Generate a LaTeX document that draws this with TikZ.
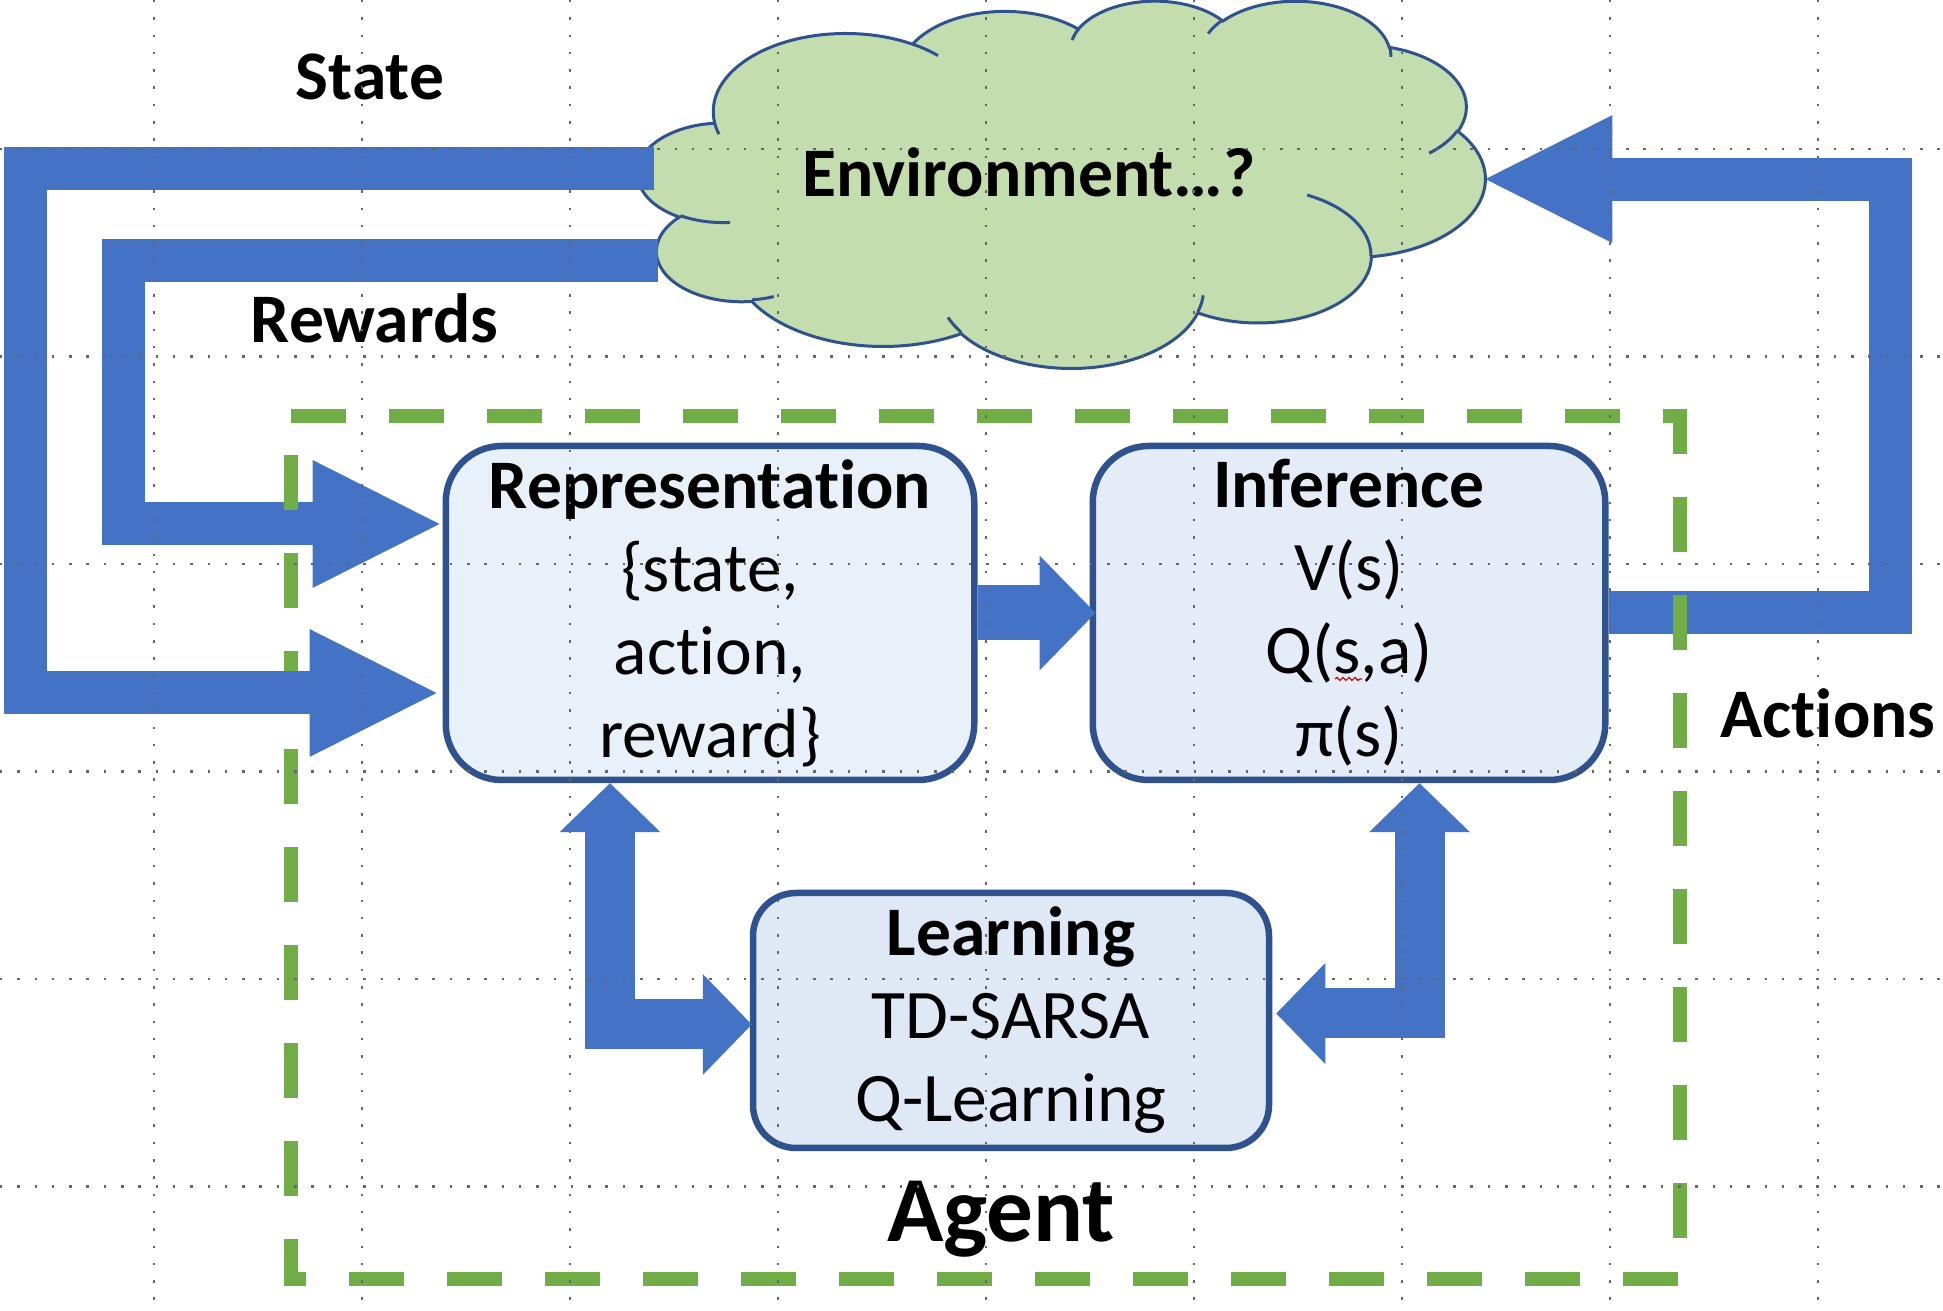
\documentclass[tikz,border=0pt]{standalone}
\usepackage{fontspec}
\setmainfont{Carlito}[Ligatures={NoCommon,NoContextual}]
\usetikzlibrary{arrows.meta,calc,decorations.pathmorphing}
\definecolor{arrowblue}{HTML}{4472C4}
\definecolor{edgeblue}{HTML}{2F528F}
\definecolor{repfill}{HTML}{E8F0F9}
\definecolor{inffill}{HTML}{E3ECF7}
\definecolor{lrnfill}{HTML}{DFE9F5}
\definecolor{cloudfill}{HTML}{C3DDAE}
\definecolor{agentgreen}{HTML}{70AD47}
% one puff of the cloud: x radius, y radius, start, sweep
\newcommand\cloudarc[4]{%
  \pgfextra{%
    \pgfmathparse{-atan2((#1)*sin(#3),(#2)*cos(#3))}\xdef\cldfrom{\pgfmathresult}%
    \pgfmathparse{-atan2((#1)*sin((#3)+(#4)),(#2)*cos((#3)+(#4)))}\xdef\cldto{\pgfmathresult}%
    \pgfmathparse{(\cldto)+360*round(((\cldfrom)-(#4)-(\cldto))/360)}\xdef\cldto{\pgfmathresult}%
    \pgfmathparse{(#1)*0.019606}\xdef\cldrx{\pgfmathresult}%
    \pgfmathparse{(#2)*0.0084954}\xdef\cldry{\pgfmathresult}%
  }%
  arc[start angle=\cldfrom, end angle=\cldto, x radius=\cldrx cm, y radius=\cldry cm]%
}
\begin{document}
\begin{tikzpicture}[
    box/.style={draw=edgeblue, line width=0.065cm, rounded corners=0.56cm, align=center,
      inner sep=0pt, font=\fontsize{19.8}{23.6}\selectfont},
    cloudline/.style={draw=edgeblue, line width=0.03cm},
    bigarrow/.style={arrowblue, line width=0.43cm, -{Triangle[length=1.27cm,width=1.28cm,line width=0pt]}},
    twoway/.style={arrowblue, line width=0.5cm,
      arrows={Triangle[length=0.49cm,width=1.01cm,line width=0pt]-Triangle[length=0.49cm,width=1.01cm,line width=0pt]}},
    lbl/.style={font=\bfseries\fontsize{19.8}{24}\selectfont, anchor=base},
    gridline/.style={black!60, line width=0.025cm, dash pattern=on 0.025cm off 0.148cm}
  ]
    \path[use as bounding box, fill=white] (0,0) rectangle (19.43,13.11);
    % Environment cloud
    \begin{scope}[shift={(6.38,13.11)}, x=0.019606cm, y=0.0084954cm]
        \draw[cloudline, fill=cloudfill] (39.00,-143.70)
            \cloudarc{67.53}{91.90}{-190.4875}{123.7805}
            \cloudarc{53.33}{72.67}{-144.1024}{89.9452}
            \cloudarc{43.65}{59.45}{-145.8079}{99.7230}
            \cloudarc{48.57}{65.95}{-130.9861}{117.2417}
            \cloudarc{53.33}{72.73}{-78.7089}{109.0269}
            \cloudarc{67.75}{92.20}{-46.2673}{130.2690}
            \cloudarc{57.85}{78.67}{0.6250}{114.0333}
            \cloudarc{67.52}{92.15}{22.4516}{115.1726}
            \cloudarc{77.20}{105.43}{66.2426}{75.7110}
            \cloudarc{43.60}{59.18}{-274.9421}{146.7356}
            \cloudarc{43.45}{59.45}{-246.8285}{152.5189}
            -- cycle;
        \draw[cloudline]
            (46.93,-261.77) \cloudarc{43.45}{59.45}{86.742}{26.4295}
            (69.28,-348.99) \cloudarc{43.60}{59.18}{73.6105}{11.4475}
            (164.78,-390.90) \cloudarc{67.52}{92.15}{137.6241}{14.0811}
            (288.27,-347.51) \cloudarc{67.52}{92.15}{6.4533}{15.9984}
            (341.29,-229.54) \cloudarc{57.85}{78.67}{-70.2924}{70.9174}
            (417.98,-153.54) \cloudarc{53.33}{72.73}{30.3180}{27.7515}
            (383.24,-54.26) \cloudarc{48.57}{65.95}{-13.7443}{14.8589}
            (290.78,-39.52) \cloudarc{48.57}{65.95}{-149.1815}{18.1954}
            (221.41,-47.20) \cloudarc{43.65}{59.45}{-163.4943}{17.6864}
            (140.00,-51.92) \cloudarc{67.53}{91.90}{-66.7070}{12.3194}
            (41.27,-157.89) \cloudarc{67.53}{91.90}{157.6544}{11.8539};
        \coordinate (cloudE) at (432.21,-210.72);
    \end{scope}
    \node[font=\bfseries\fontsize{19.8}{23}\selectfont, anchor=base] (env) at (10.29,11.14) {Environment…?};
    % Agent parts
    \node[box, fill=repfill, minimum width=5.285cm, minimum height=3.34cm] (rep) at (7.10,6.98)
        {\textbf{Representation}\\\{state,\\action,\\reward\}};
    \node[box, fill=inffill, minimum width=5.125cm, minimum height=3.34cm] (inf) at (13.49,6.98)
        {\textbf{Inference}\\V(s)\\Q(s,a)\\π(s)};
    \node[box, fill=lrnfill, rounded corners=0.43cm, minimum width=5.16cm, minimum height=2.55cm] (lrn) at (10.11,2.905)
        {\textbf{Learning}\\TD-SARSA\\Q-Learning};
    % Rewards and actions
    \coordinate (rewout) at (6.58,10.505);
    \coordinate (rewin) at ($(rep.west)+(-0.03,0.89)$);
    \draw[bigarrow] (rewout) -- (1.23,10.505) |- (rewin);
    \draw[bigarrow] (inf.east) -- (18.905,6.98) |- (cloudE);
    % Agent frame
    \draw[agentgreen, line width=0.14cm, dash pattern=on 0.55cm off 0.43cm]
        (2.91,8.95) -- (16.80,8.95) -- (16.80,0.32) -- (2.91,0.32) -- cycle;
    % State
    \coordinate (stateout) at (6.54,11.425);
    \coordinate (statein) at ($(rep.west)+(-0.06,-0.80)$);
    \draw[bigarrow] (stateout) -- (0.255,11.425) |- (statein);
    % inside the agent
    \draw[arrowblue, line width=0.55cm, -{Triangle[length=0.56cm,width=1.15cm,line width=0pt]}]
        (rep.east) -- ([xshift=0.06cm]inf.west);
    \draw[twoway] ($(rep.south)+(-1.00,0)$) |- ($(lrn.west)+(0.02,-0.04)$);
    \draw[twoway] ($(inf.south)+(0.705,0)$) |- ($(lrn.east)+(0.04,0.07)$);
    % Labels
    \node[lbl] (state) at (3.70,12.11) {State};
    \node[lbl] (rewards) at (3.745,9.68) {Rewards};
    \node[lbl] (actions) at (18.28,5.73) {Actions};
    \node[font=\bfseries\fontsize{26.5}{31}\selectfont, anchor=base] (agent) at (10.01,0.69) {Agent};
    \draw[red!85!black, line width=0.012cm, decorate, decoration={snake, amplitude=0.015cm, segment length=0.06cm}]
        (13.35,6.32) -- (13.62,6.32);
    % Grid
    \foreach \x in {1.54,3.62,5.70,7.78,9.86,11.94,14.02,16.10,18.18} {
        \draw[gridline] (\x,13.11) -- (\x,0);
    }
    \foreach \y in {11.62,9.545,7.47,5.395,3.32,1.245} {
        \draw[gridline] (0,\y) -- (19.43,\y);
    }
\end{tikzpicture}
\end{document}
